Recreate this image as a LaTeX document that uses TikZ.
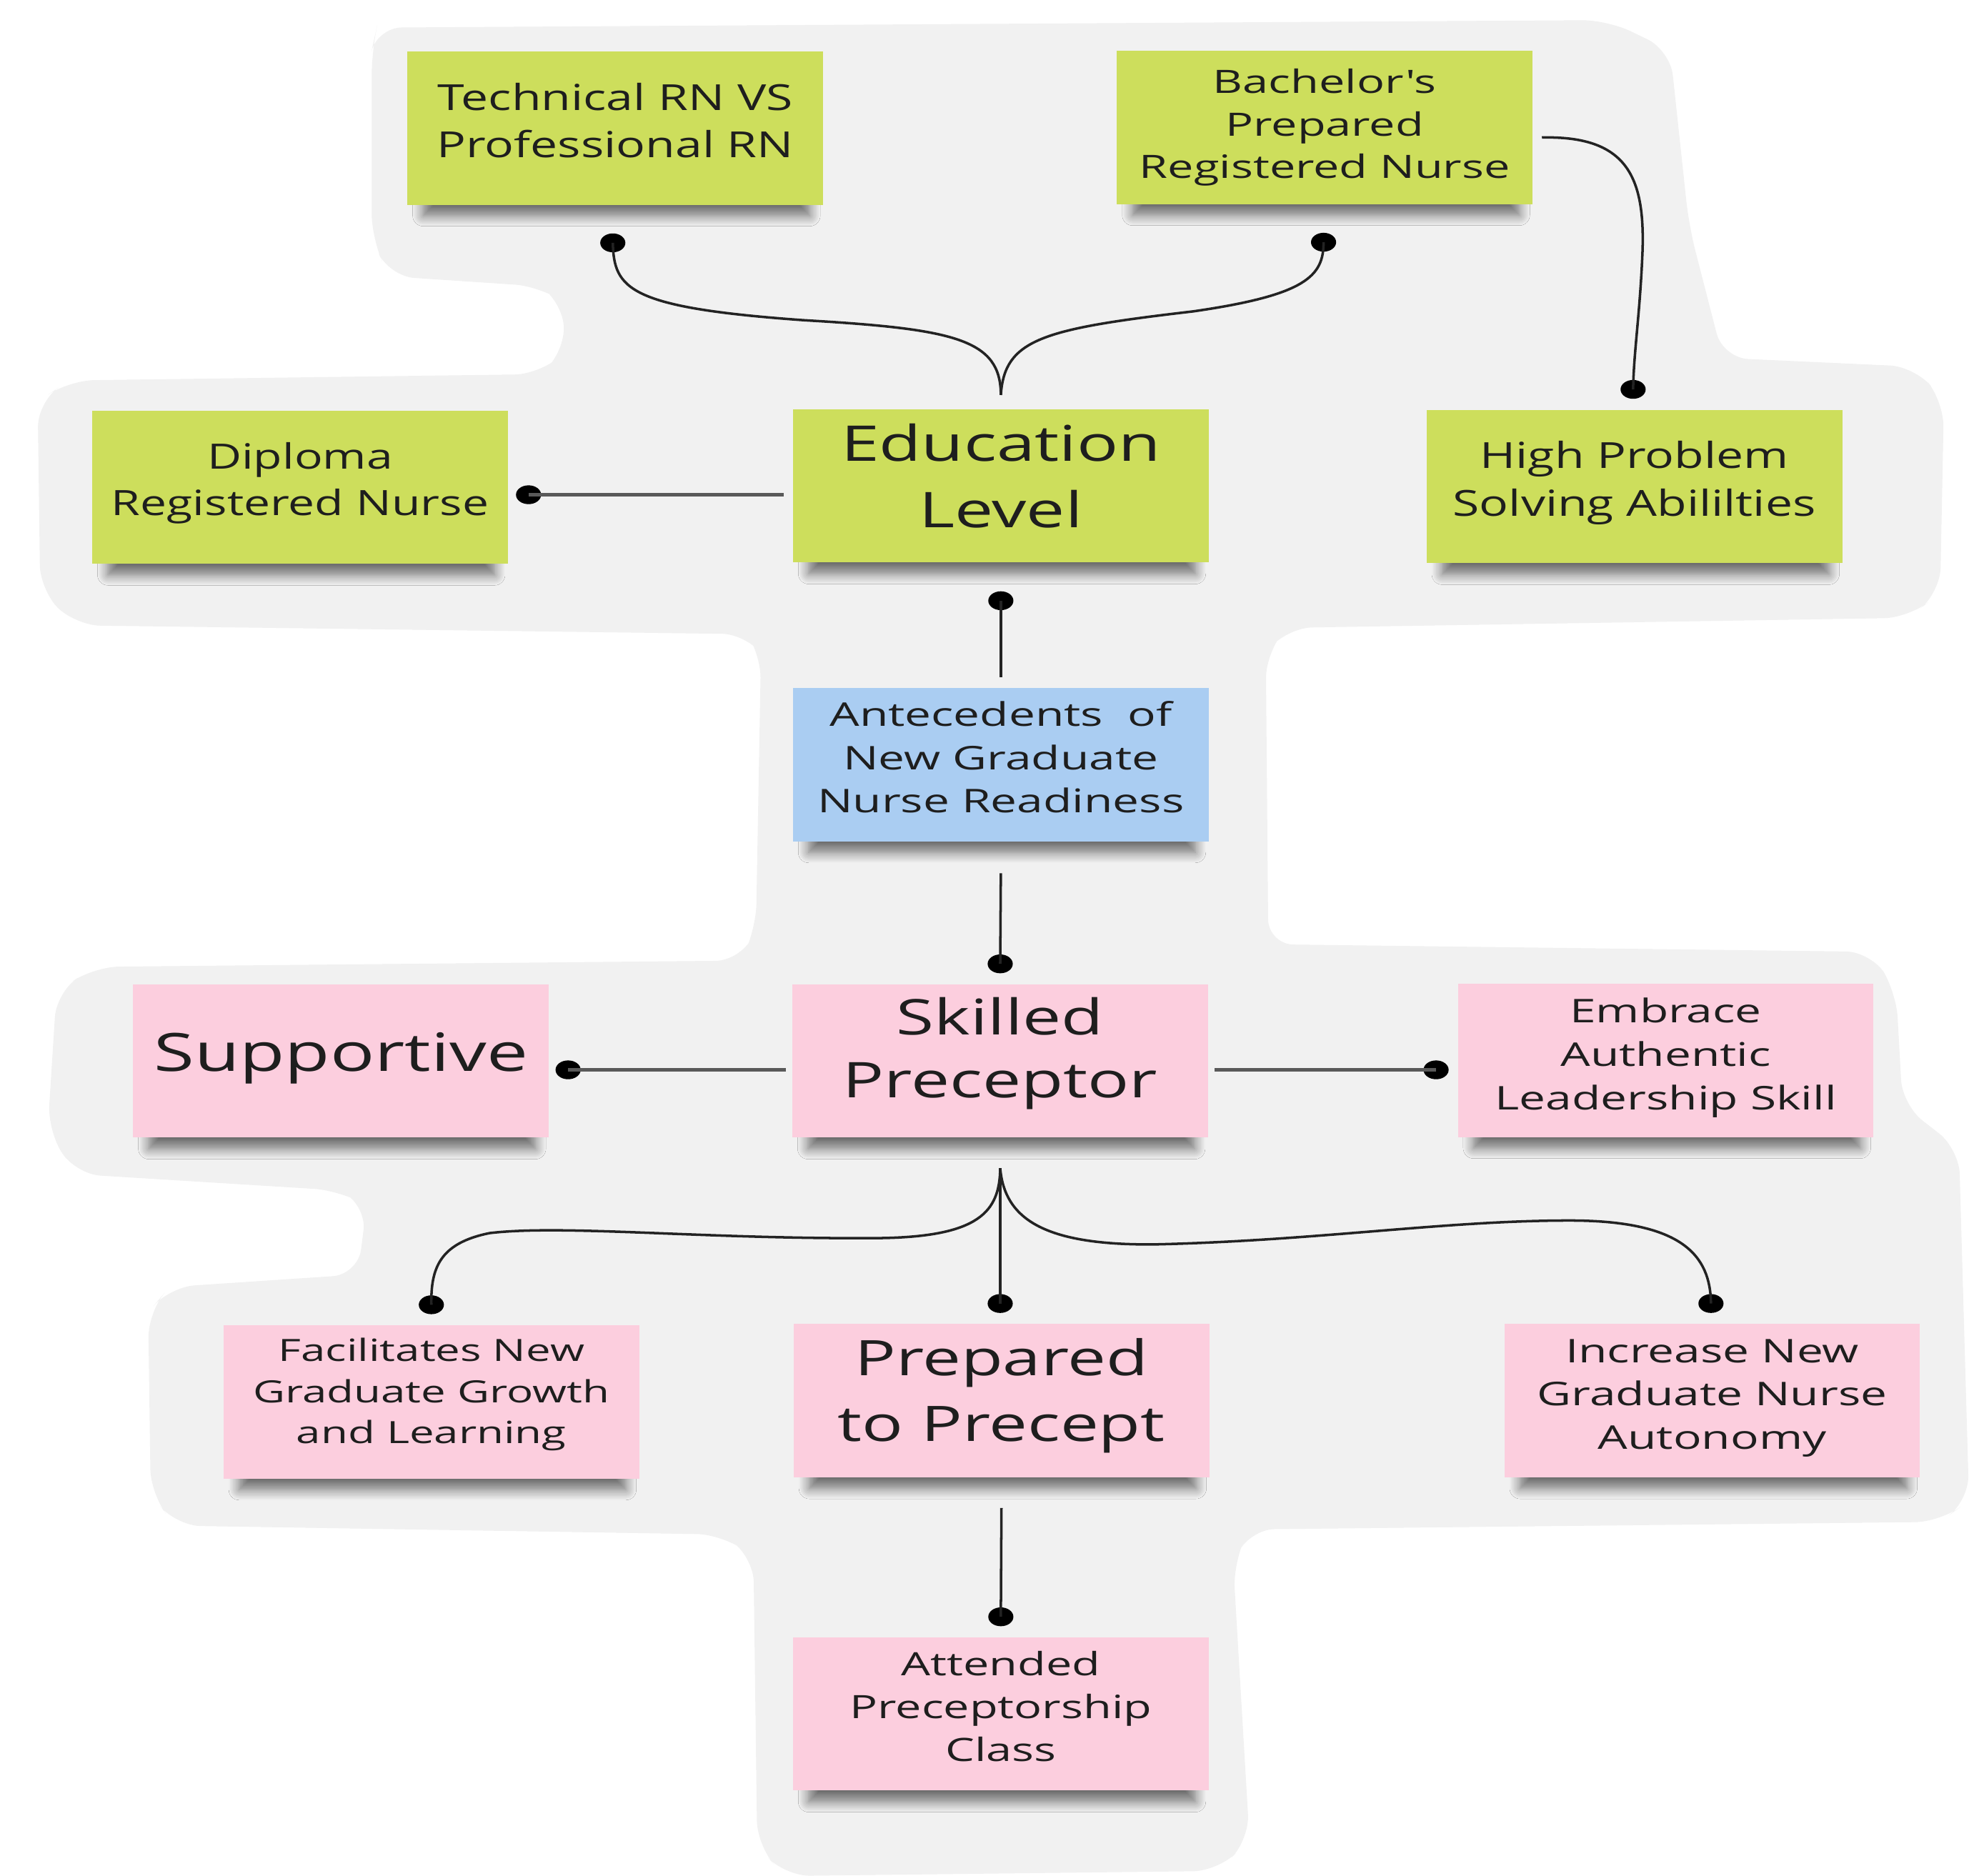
\documentclass[tikz,border=0pt]{standalone}
\usepackage{fontspec}
\setmainfont{Open Sans}[FakeStretch=1.35]
\newfontfamily\widerA{Open Sans}[FakeStretch=1.40]
\newfontfamily\widerB{Open Sans}[FakeStretch=1.44]
\usetikzlibrary{calc,shapes.geometric,shadows.blur}
\definecolor{notegreen}{RGB}{205,222,92}
\definecolor{notepink}{RGB}{252,206,222}
\definecolor{noteblue}{RGB}{170,205,242}
\definecolor{bggrey}{RGB}{241,241,241}
\definecolor{txt}{RGB}{30,30,30}
\definecolor{linec}{RGB}{35,35,35}
\tikzset{
  note/.style={minimum width=165.5pt, minimum height=61pt, inner sep=0pt,
    blur shadow={shadow xshift=0.5pt, shadow yshift=-7pt, shadow scale=0.93, shadow blur radius=4.5pt, shadow blur steps=8, shadow opacity=55}},
  greennote/.style={note, fill=notegreen},
  pinknote/.style={note, fill=notepink},
  bluenote/.style={note, fill=noteblue},
  lbl/.style={align=center, text=txt, inner sep=0pt, yshift=3pt},
  link/.style={line width=1pt, draw=linec},
  hlink/.style={line width=1.3pt, draw=black!65},
  dotend/.style={ellipse, fill=black, minimum width=10pt, minimum height=7.5pt, inner sep=0pt},
  fbig/.style={font=\widerA\fontsize{19.6}{26.2}\selectfont},
  fmid/.style={font=\fontsize{14.3}{19}\selectfont},
  fsmall/.style={font=\widerB\fontsize{13}{17.3}\selectfont},
}
\begin{document}
\begin{tikzpicture}[x=0.5pt, y=-0.5pt]
\useasboundingbox (0,0) rectangle (1568,1494);
\fill[white] (0,0) rectangle (1568,1494);
% background blob
\fill[bggrey, rounded corners=10pt]
 (300,22) -- (1280,16) -- (1330,40) -- (1345,180) -- (1372,285) -- (1525,292) -- (1548,320) -- (1545,472)
 -- (1520,492) -- (1025,500) -- (1008,520) -- (1010,752) -- (1490,758) -- (1510,790) -- (1515,880)
 -- (1560,915) -- (1568,1195) -- (1545,1212) -- (995,1218) -- (982,1245) -- (995,1465) -- (970,1490)
 -- (625,1494) -- (603,1470) -- (600,1240) -- (575,1222) -- (140,1215) -- (120,1190) -- (118,1045)
 -- (135,1025) -- (285,1015) -- (292,960) -- (270,948) -- (60,935) -- (38,900) -- (45,790) -- (75,770)
 -- (590,765) -- (602,740) -- (606,520) -- (595,505) -- (60,498) -- (32,470) -- (30,320) -- (55,303)
 -- (430,298) -- (450,280) -- (448,240) -- (430,228) -- (310,220) -- (296,190) -- (296,40) -- cycle;

% notes
\node[greennote, label={[name=techT, lbl, fmid]center:{Technical RN VS\\Professional RN}}] (tech) at (490,102) {};
\node[greennote, label={[name=bachT, lbl, yshift=-3pt, font=\widerB\fontsize{12.8}{17}\selectfont]center:{Bachelor's\\Prepared\\Registered Nurse}}] (bach) at (1055,101.5) {};
\node[greennote, label={[name=diplT, lbl, yshift=-1.5pt, font=\fontsize{13.9}{18.5}\selectfont]center:{Diploma\\Registered Nurse}}] (dipl) at (239,388) {};
\node[greennote, label={[name=eduT, lbl, fbig, yshift=1pt]center:{Education\\Level}}] (edu) at (797,387) {};
\node[greennote, label={[name=highT, lbl, yshift=-1.5pt, fmid]center:{High Problem\\Solving Abililties}}] (high) at (1301.5,387.5) {};
\node[bluenote, label={[name=anteT, lbl, fsmall]center:{Antecedents \ of\\New Graduate\\Nurse Readiness}}] (ante) at (797,609) {};
\node[pinknote, label={[name=suppT, lbl, yshift=-2pt, font=\widerA\fontsize{21}{28}\selectfont]center:{Supportive}}] (supp) at (271.5,845) {};
\node[pinknote, label={[name=skillT, lbl, font=\widerA\fontsize{19.6}{25}\selectfont]center:{Skilled\\Preceptor}}] (skill) at (796.5,845) {};
\node[pinknote, label={[name=embrT, lbl, yshift=-2pt, fsmall]center:{Embrace\\Authentic\\Leadership Skill}}] (embr) at (1326.5,844.5) {};
\node[pinknote, label={[name=faciT, lbl, font=\widerB\fontsize{12.2}{16.3}\selectfont]center:{Facilitates New\\Graduate Growth\\and Learning}}] (faci) at (343.5,1116.5) {};
\node[pinknote, label={[name=prepT, lbl, yshift=-1pt, font=\widerA\fontsize{19.5}{26}\selectfont]center:{Prepared\\to Precept}}] (prep) at (797.5,1115.5) {};
\node[pinknote, label={[name=incrT, lbl, yshift=-2pt, fsmall]center:{Increase New\\Graduate Nurse\\Autonomy}}] (incr) at (1363.5,1115.5) {};
\node[pinknote, label={[name=atteT, lbl, font=\widerB\fontsize{12.8}{17}\selectfont]center:{Attended\\Preceptorship\\Class}}] (atte) at (797,1365) {};

% connector ends
\coordinate (eduTop) at ($(edu.north)+(0,-11)$);
\coordinate (bachR) at ($(bach.east)+(7,8)$);
\coordinate (eduL) at ($(edu.west)+(-7,7)$);
\coordinate (anteTop) at ($(ante.north)+(0,-8)$);
\coordinate (anteBot) at ($(ante.south)+(0,25)$);
\coordinate (skillL) at ($(skill.west)+(-5,7)$);
\coordinate (skillR) at ($(skill.east)+(5,7)$);
\coordinate (skillBot) at ($(skill.south)+(0,24)$);
\coordinate (prepBot) at ($(prep.south)+(0,24)$);

\node[dotend] (dTech) at ($(tech.south)+(-2,30)$) {};
\node[dotend] (dBach) at ($(bach.south)+(-1,30)$) {};
\node[dotend] (dHigh) at ($(high.north)+(-1,-16)$) {};
\node[dotend] (dDipl) at ($(dipl.east)+(16,6)$) {};
\node[dotend] (dEdu) at ($(edu.south)+(0,30)$) {};
\node[dotend] (dSkill) at ($(skill.north)+(0,-16)$) {};
\node[dotend] (dSupp) at ($(supp.east)+(15,7)$) {};
\node[dotend] (dEmbr) at ($(embr.west)+(-17,7.5)$) {};
\node[dotend] (dFaci) at ($(faci.north)+(0,-16)$) {};
\node[dotend] (dPrep) at ($(prep.north)+(-1,-16)$) {};
\node[dotend] (dIncr) at ($(incr.north)+(-1,-16)$) {};
\node[dotend] (dAtte) at ($(atte.north)+(0,-16)$) {};

% connectors
\draw[link] (eduTop) .. controls (797,270) and (760,262) .. (640,255) .. controls (500,245) and (489,230) .. (dTech.center);
\draw[link] (eduTop) .. controls (800,270) and (830,262) .. (950,248) .. controls (1040,235) and (1054,220) .. (dBach.center);
\draw[link] (bachR) .. controls (1295,108) and (1310,140) .. (1308,200) .. controls (1306,250) and (1301,280) .. (dHigh.center);
\draw[hlink] (eduL) -- (dDipl.center);
\draw[link] (dEdu.center) -- (anteTop);
\draw[link] (anteBot) -- (dSkill.center);
\draw[hlink] (skillL) -- (dSupp.center);
\draw[hlink] (skillR) -- (dEmbr.center);
\draw[link] (skillBot) -- (dPrep.center);
\draw[link] (skillBot) .. controls (796,965) and (780,985) .. (700,986) .. controls (560,987) and (450,975) .. (390,982) .. controls (350,990) and (343,1010) .. (dFaci.center);
\draw[link] (skillBot) .. controls (800,970) and (830,992) .. (920,991) .. controls (1050,988) and (1150,972) .. (1250,972) .. controls (1340,972) and (1362,1000) .. (dIncr.center);
\draw[link] (prepBot) -- (dAtte.center);
\end{tikzpicture}
\end{document}
